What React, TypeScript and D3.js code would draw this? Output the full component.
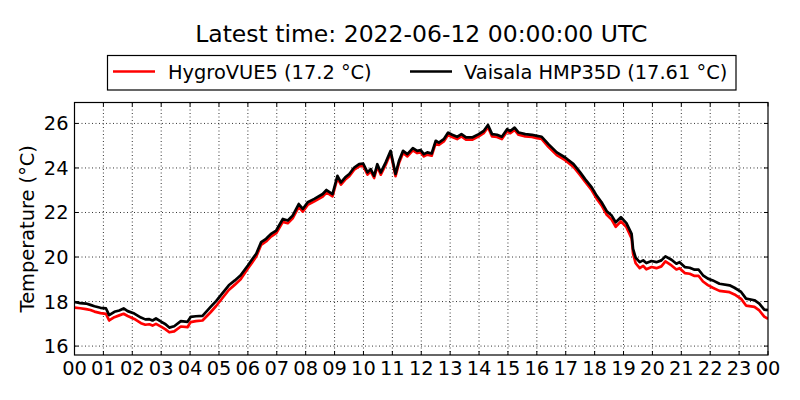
import React, { useEffect, useRef } from 'react'
import * as d3 from 'd3'

// hours since 2022-06-11 00:00 UTC
const hours = [
    0.0, 0.2, 0.4, 0.55, 0.69, 0.9, 1.09, 1.2, 1.38, 1.55, 1.7, 1.84, 2.07, 2.3, 2.45, 2.59, 2.7, 2.82,
    3.01, 3.15, 3.28, 3.45, 3.68, 3.91, 4.02, 4.2, 4.43, 4.71, 4.9, 5.06, 5.34, 5.55, 5.75, 6.0, 6.15,
    6.29, 6.46, 6.63, 6.8, 6.98, 7.21, 7.38, 7.55, 7.76, 7.9, 8.07, 8.3, 8.59, 8.72, 8.93, 9.1, 9.22,
    9.37, 9.51, 9.68, 9.85, 9.99, 10.14, 10.25, 10.37, 10.48, 10.6, 10.77, 10.94, 11.11, 11.23, 11.37,
    11.52, 11.71, 11.86, 11.98, 12.09, 12.21, 12.36, 12.5, 12.61, 12.78, 12.93, 13.07, 13.24, 13.39,
    13.55, 13.76, 13.99, 14.16, 14.31, 14.45, 14.62, 14.79, 14.97, 15.08, 15.23, 15.37, 15.6, 15.83,
    16.0, 16.17, 16.4, 16.69, 16.98, 17.27, 17.5, 17.67, 17.9, 18.07, 18.24, 18.42, 18.59, 18.73,
    18.91, 19.1, 19.28, 19.33, 19.42, 19.56, 19.68, 19.79, 19.97, 20.14, 20.31, 20.45, 20.66, 20.83,
    20.94, 21.12, 21.29, 21.46, 21.6, 21.75, 21.92, 22.09, 22.32, 22.67, 22.84, 23.07, 23.24, 23.53,
    23.7, 23.87, 24.0,
]

const vaisala = [
    17.98, 17.93, 17.91, 17.85, 17.79, 17.72, 17.69, 17.39, 17.54, 17.6, 17.69, 17.57, 17.46, 17.28,
    17.2, 17.21, 17.15, 17.24, 17.09, 16.98, 16.83, 16.89, 17.12, 17.09, 17.31, 17.34, 17.36, 17.76,
    18.02, 18.28, 18.73, 18.95, 19.18, 19.62, 19.9, 20.15, 20.67, 20.82, 21.04, 21.19, 21.71, 21.64,
    21.86, 22.38, 22.16, 22.46, 22.61, 22.83, 23.01, 22.83, 23.65, 23.35, 23.58, 23.73, 24.02, 24.17,
    24.2, 23.8, 23.95, 23.65, 24.17, 23.8, 24.25, 24.77, 23.73, 24.32, 24.77, 24.62, 24.89, 24.77,
    24.8, 24.62, 24.7, 24.65, 25.22, 25.14, 25.29, 25.59, 25.49, 25.4, 25.52, 25.37, 25.37, 25.52,
    25.66, 25.93, 25.52, 25.49, 25.4, 25.74, 25.66, 25.81, 25.59, 25.52, 25.49, 25.44, 25.4, 25.07,
    24.7, 24.47, 24.17, 23.8, 23.5, 23.13, 22.76, 22.46, 22.06, 21.86, 21.56, 21.79, 21.52, 21.04,
    20.37, 19.97, 19.77, 19.85, 19.73, 19.82, 19.77, 19.85, 20.03, 19.88, 19.7, 19.77, 19.55, 19.52,
    19.43, 19.43, 19.18, 19.03, 18.95, 18.8, 18.73, 18.62, 18.43, 18.13, 18.06, 17.91, 17.64, 17.61,
]

const hygrovue = [
    17.73, 17.7, 17.66, 17.62, 17.55, 17.48, 17.45, 17.15, 17.3, 17.38, 17.45, 17.35, 17.22, 17.03,
    16.96, 16.98, 16.92, 17.0, 16.86, 16.75, 16.62, 16.66, 16.88, 16.85, 17.08, 17.12, 17.15, 17.52,
    17.8, 18.06, 18.52, 18.76, 19.0, 19.48, 19.76, 20.02, 20.55, 20.7, 20.92, 21.07, 21.58, 21.52,
    21.74, 22.25, 22.04, 22.34, 22.5, 22.72, 22.9, 22.73, 23.54, 23.25, 23.48, 23.63, 23.92, 24.07,
    24.1, 23.7, 23.85, 23.55, 24.07, 23.7, 24.15, 24.67, 23.63, 24.22, 24.67, 24.52, 24.79, 24.67,
    24.7, 24.52, 24.6, 24.55, 25.12, 25.04, 25.19, 25.49, 25.39, 25.3, 25.42, 25.27, 25.27, 25.42,
    25.56, 25.83, 25.42, 25.39, 25.3, 25.64, 25.56, 25.71, 25.49, 25.42, 25.39, 25.34, 25.3, 24.95,
    24.58, 24.35, 24.05, 23.68, 23.38, 23.0, 22.62, 22.32, 21.9, 21.68, 21.36, 21.6, 21.34, 20.84,
    20.15, 19.72, 19.5, 19.6, 19.45, 19.55, 19.5, 19.58, 19.8, 19.62, 19.44, 19.5, 19.28, 19.25,
    19.15, 19.15, 18.9, 18.74, 18.62, 18.48, 18.42, 18.32, 18.12, 17.82, 17.76, 17.6, 17.32, 17.22,
]

const series = [
    { name: 'HygroVUE5 (17.2 °C)', color: '#ff0000', values: hygrovue },
    { name: 'Vaisala HMP35D (17.61 °C)', color: '#000000', values: vaisala },
]

const yTicks = [16, 18, 20, 22, 24, 26]
const xTicks = d3.range(0, 25)
const title = 'Latest time: 2022-06-12 00:00:00 UTC'
const yLabel = 'Temperature (°C)'

const App: React.FC = () => {
    const svgRef = useRef<SVGSVGElement | null>(null)

    useEffect(() => {
        if (!svgRef.current) return
        const width = 800
        const height = 400
        const m = { left: 74.5, right: 768, top: 102.5, bottom: 355 }
        const font = 'DejaVu Sans, sans-serif'
        const fs = '19.4px'

        const svg = d3.select(svgRef.current).attr('viewBox', `0 0 ${width} ${height}`)
        svg.selectAll('*').remove()

        const x = d3.scaleLinear().domain([0, 24]).range([m.left, m.right])
        const y = d3.scaleLinear().domain([15.6, 26.94]).range([m.bottom, m.top])

        svg.append('rect').attr('width', width).attr('height', height).attr('fill', 'white')

        // grid
        const grid = svg.append('g').attr('stroke', '#000').attr('stroke-width', 0.8).attr('stroke-dasharray', '1,2.5')
        xTicks.slice(1, -1).forEach((t) => {
            grid.append('line').attr('x1', x(t)).attr('x2', x(t)).attr('y1', m.top).attr('y2', m.bottom)
        })
        yTicks.forEach((t) => {
            grid.append('line').attr('x1', m.left).attr('x2', m.right).attr('y1', y(t)).attr('y2', y(t))
        })

        // lines
        const clip = svg.append('clipPath').attr('id', 'plot-clip')
        clip.append('rect').attr('x', m.left).attr('y', m.top).attr('width', m.right - m.left).attr('height', m.bottom - m.top)
        series.forEach((s) => {
            const line = d3
                .line<number>()
                .x((_, i) => x(hours[i]))
                .y((d) => y(d))
            svg.append('path')
                .attr('d', line(s.values))
                .attr('fill', 'none')
                .attr('stroke', s.color)
                .attr('stroke-width', 2.7)
                .attr('stroke-linejoin', 'round')
                .attr('clip-path', 'url(#plot-clip)')
        })

        // ticks (inward, all sides)
        const ticks = svg.append('g').attr('stroke', '#000').attr('stroke-width', 1)
        xTicks.forEach((t) => {
            ticks.append('line').attr('x1', x(t)).attr('x2', x(t)).attr('y1', m.bottom).attr('y2', m.bottom - 4)
            ticks.append('line').attr('x1', x(t)).attr('x2', x(t)).attr('y1', m.top).attr('y2', m.top + 4)
        })
        yTicks.forEach((t) => {
            ticks.append('line').attr('x1', m.left).attr('x2', m.left + 4).attr('y1', y(t)).attr('y2', y(t))
            ticks.append('line').attr('x1', m.right).attr('x2', m.right - 4).attr('y1', y(t)).attr('y2', y(t))
        })

        svg.append('rect')
            .attr('x', m.left)
            .attr('y', m.top)
            .attr('width', m.right - m.left)
            .attr('height', m.bottom - m.top)
            .attr('fill', 'none')
            .attr('stroke', '#000')
            .attr('stroke-width', 1.2)

        // tick labels
        svg.append('g')
            .selectAll('text')
            .data(xTicks)
            .join('text')
            .attr('x', (d) => x(d))
            .attr('y', 374.5)
            .attr('text-anchor', 'middle')
            .style('font-family', font)
            .style('font-size', fs)
            .text((d) => String(d % 24).padStart(2, '0'))

        svg.append('g')
            .selectAll('text')
            .data(yTicks)
            .join('text')
            .attr('x', m.left - 6)
            .attr('y', (d) => y(d))
            .attr('dy', '0.36em')
            .attr('text-anchor', 'end')
            .style('font-family', font)
            .style('font-size', fs)
            .text((d) => String(d))

        svg.append('text')
            .attr('transform', `translate(34,${(m.top + m.bottom) / 2}) rotate(-90)`)
            .attr('text-anchor', 'middle')
            .style('font-family', font)
            .style('font-size', fs)
            .text(yLabel)

        svg.append('text')
            .attr('x', (m.left + m.right) / 2)
            .attr('y', 42)
            .attr('text-anchor', 'middle')
            .style('font-family', font)
            .style('font-size', '23.5px')
            .text(title)

        // legend
        const lg = svg.append('g')
        lg.append('rect')
            .attr('x', 107.5)
            .attr('y', 55.5)
            .attr('width', 628.5)
            .attr('height', 34.5)
            .attr('fill', 'white')
            .attr('stroke', '#000')
            .attr('stroke-width', 1.2)
        const legendX = [113, 410]
        const textX = [168, 464]
        series.forEach((s, i) => {
            lg.append('line')
                .attr('x1', legendX[i])
                .attr('x2', legendX[i] + 42)
                .attr('y1', 71.5)
                .attr('y2', 71.5)
                .attr('stroke', s.color)
                .attr('stroke-width', 2.7)
            lg.append('text')
                .attr('x', textX[i])
                .attr('y', 78.5)
                .style('font-family', font)
                .style('font-size', fs)
                .text(s.name)
        })
    }, [])

    return (
        <div style={{ position: 'absolute', left: 0, top: 0, width: 800, height: 400 }}>
            <svg ref={svgRef} width={800} height={400} style={{ display: 'block' }}></svg>
        </div>
    )
}

export default App
